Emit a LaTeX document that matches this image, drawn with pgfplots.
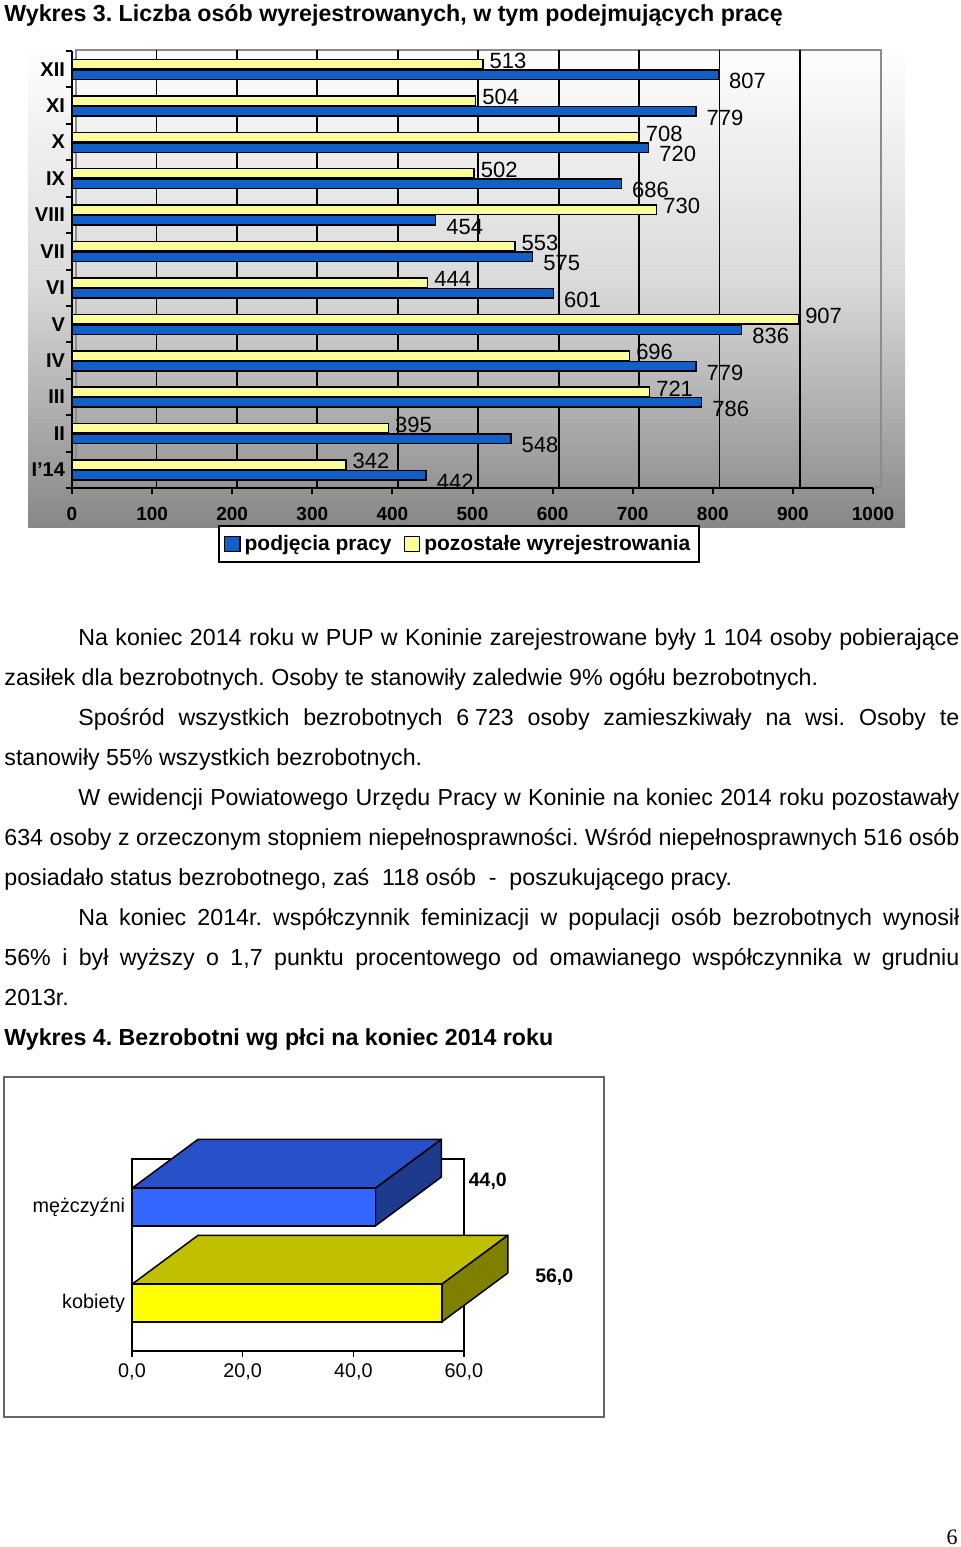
\documentclass[border=0pt]{standalone}
\usepackage{pgfplots}
\pgfplotsset{compat=1.18}
\usepackage{fontspec}
\setmainfont{Liberation Sans}
\newfontfamily\seriffont{Liberation Serif}
\definecolor{barblue}{RGB}{16,96,200}
\definecolor{baryellow}{RGB}{255,255,153}
\definecolor{mfront}{RGB}{51,102,255}
\definecolor{mtop}{RGB}{40,80,200}
\definecolor{mside}{RGB}{30,58,140}
\definecolor{kfront}{RGB}{255,255,0}
\definecolor{ktop}{RGB}{192,192,0}
\definecolor{kside}{RGB}{128,128,0}
\newcommand\body{\fontsize{11.6}{13}\selectfont}
\newcommand\jl[3]{\node[anchor=base west,inner sep=0pt] at (#1) {\body\makebox[#2][s]{#3}};}
\newcommand\pl[2]{\node[anchor=base west,inner sep=0pt] at (#1) {\body #2};}
\frenchspacing
\begin{document}
\frenchspacing
\begin{tikzpicture}
\path[use as bounding box] (0pt,0pt) rectangle (480pt,-773.5pt);
% title
\node[anchor=base west,inner sep=0pt] at (2pt,-10.5pt) {\bfseries\fontsize{11.6}{13}\selectfont Wykres 3. Liczba osób wyrejestrowanych, w tym podejmujących pracę};
% chart area
\shade[top color=white,bottom color=black!47,middle color=black!15] (14pt,-22.5pt) rectangle (452.5pt,-263.5pt);
\draw[black!45,line width=0.75pt] (38pt,-25pt) rectangle (440.5pt,-243.5pt);
% back-wall grid lines (every 100)
\foreach \v in {100,200,...,900} {
  \draw[black,line width=0.9pt] ({38pt+\v*0.4022pt},-25pt) -- ({38pt+\v*0.4022pt},-243.5pt);
}
\begin{axis}[
  at={(36pt,-244pt)}, anchor=south west,
  scale only axis, width=400.5pt, height=218.5pt,
  xbar, bar width=4.75pt,
  xmin=0, xmax=1000, ymin=-0.5, ymax=11.5,
  clip=false,
  axis x line*=bottom, axis y line*=left,
  axis line style={black,line width=1pt},
  xtick={0,100,...,1000},
  ytick={-0.5,0.5,...,11.5}, yticklabels={},
  extra y ticks={0,1,2,3,4,5,6,7,8,9,10,11},
  extra y tick labels={I'14,II,III,IV,V,VI,VII,VIII,IX,X,XI,XII},
  extra y tick style={major tick length=0pt},
  tick align=outside, major tick length=3pt,
  tick style={black,line width=1pt},
  x tick label style={font=\bfseries\fontsize{9.5}{10}\selectfont, yshift=-3pt},
  y tick label style={font=\bfseries\fontsize{10}{11}\selectfont},
  /pgf/number format/assume math mode=true,
  /pgf/number format/1000 sep={},
  nodes near coords, point meta=x,
  every node near coord/.append style={font=\fontsize{11}{12}\selectfont, anchor=west, inner sep=2pt},
  legend style={at={(0.1823,-0.0847)}, anchor=north west, draw=black, line width=1pt, fill=white,
    font=\bfseries\fontsize{10.5}{12}\selectfont, inner sep=2.5pt,
    /tikz/every even column/.append style={column sep=4pt}},
  legend columns=2,
  legend image code/.code={\draw[#1,line width=0.7pt] (0pt,-3.8pt) rectangle (7.6pt,3.8pt);},
]
\addplot[fill=barblue, draw=black, line width=0.75pt, bar shift=-2.75pt,
  every node near coord/.append style={xshift=3pt,yshift=-3.2pt}]
  coordinates {(442,0) (548,1) (786,2) (779,3) (836,4) (601,5) (575,6) (454,7) (686,8) (720,9) (779,10) (807,11)};
\addplot[fill=baryellow, draw=black, line width=0.75pt, bar shift=2.5pt,
  every node near coord/.append style={xshift=1pt,yshift=1.8pt}]
  coordinates {(342,0) (395,1) (721,2) (696,3) (907,4) (444,5) (553,6) (730,7) (502,8) (708,9) (504,10) (513,11)};
\legend{podjęcia pracy, pozostałe wyrejestrowania}
\end{axis}
% body text
\jl{39pt,-322.5pt}{440.5pt}{Na koniec 2014 roku w PUP w Koninie zarejestrowane były 1 104 osoby pobierające}
\pl{2pt,-342.5pt}{zasiłek dla bezrobotnych. Osoby te stanowiły zaledwie 9\% ogółu bezrobotnych.}
\jl{39pt,-362.5pt}{440.5pt}{Spośród wszystkich bezrobotnych 6\kern0.25em 723 osoby zamieszkiwały na wsi. Osoby te}
\pl{2pt,-382.5pt}{stanowiły 55\% wszystkich bezrobotnych.}
\jl{39pt,-402.5pt}{440.5pt}{W ewidencji Powiatowego Urzędu Pracy w Koninie na koniec 2014 roku pozostawały}
\jl{2pt,-422.5pt}{477.5pt}{634 osoby z orzeczonym stopniem niepełnosprawności. Wśród niepełnosprawnych 516 osób}
\pl{2pt,-442.5pt}{posiadało status bezrobotnego, zaś \ 118 osób \ - \ poszukującego pracy.}
\jl{39pt,-462.5pt}{440.5pt}{Na koniec 2014r. współczynnik feminizacji w populacji osób bezrobotnych wynosił}
\jl{2pt,-482.5pt}{477.5pt}{56\% i był wyższy o 1,7 punktu procentowego od omawianego współczynnika w grudniu}
\pl{2pt,-502.5pt}{2013r.}
\node[anchor=base west,inner sep=0pt] at (2pt,-522.5pt) {\bfseries\fontsize{11.6}{13}\selectfont Wykres 4. Bezrobotni wg płci na koniec 2014 roku};
% chart 2 frame
\draw[black!60,line width=0.75pt] (2pt,-538.5pt) rectangle (302pt,-708.5pt);
\begin{axis}[
  at={(66pt,-675.5pt)}, anchor=south west,
  scale only axis, width=166pt, height=96pt,
  xmin=0, xmax=60, ymin=-0.5, ymax=1.5,
  clip=false,
  xtick={0,20,40,60}, ytick={0,1}, yticklabels={kobiety,mężczyźni},
  xtick pos=left,
  x tick label style={/pgf/number format/.cd,fixed,fixed zerofill,precision=1,use comma,assume math mode=true,/tikz/.cd},
  y tick label style={xshift=3pt},
  tick label style={font=\fontsize{9.9}{11}\selectfont},
  tick align=outside, major tick length=3pt,
  ytick style={draw=none}, xtick style={black,line width=0.75pt},
  axis line style={black,line width=0.75pt},
]
% mężczyźni
\addplot[fill=mtop, draw=black, line width=0.75pt, line join=round]
  coordinates {(0,1.196) (44,1.196) (55.93,1.705) (11.93,1.705) (0,1.196)};
\addplot[fill=mside, draw=black, line width=0.75pt, line join=round]
  coordinates {(44,0.804) (44,1.196) (55.93,1.705) (55.93,1.313) (44,0.804)};
\addplot[xbar, bar width=19pt, bar shift=0pt, fill=mfront, draw=black, line width=0.75pt,
  nodes near coords={\pgfmathprintnumber[fixed,fixed zerofill,precision=1,use comma,assume math mode=true]{\pgfplotspointmeta}},
  point meta=x,
  every node near coord/.append style={font=\bfseries\fontsize{9.75}{11}\selectfont, anchor=west, xshift=43pt, yshift=13pt}]
  coordinates {(44,1)};
% kobiety
\addplot[fill=ktop, draw=black, line width=0.75pt, line join=round]
  coordinates {(0,0.196) (56,0.196) (67.93,0.705) (11.93,0.705) (0,0.196)};
\addplot[fill=kside, draw=black, line width=0.75pt, line join=round]
  coordinates {(56,-0.196) (56,0.196) (67.93,0.705) (67.93,0.313) (56,-0.196)};
\addplot[xbar, bar width=19pt, bar shift=0pt, fill=kfront, draw=black, line width=0.75pt,
  nodes near coords={\pgfmathprintnumber[fixed,fixed zerofill,precision=1,use comma,assume math mode=true]{\pgfplotspointmeta}},
  point meta=x,
  every node near coord/.append style={font=\bfseries\fontsize{9.75}{11}\selectfont, anchor=west, xshift=43pt, yshift=13pt}]
  coordinates {(56,0)};
\end{axis}
% page number
\node[anchor=base,inner sep=0pt] at (476pt,-772pt) {\seriffont\fontsize{11}{12}\selectfont 6};
\end{tikzpicture}
\end{document}
